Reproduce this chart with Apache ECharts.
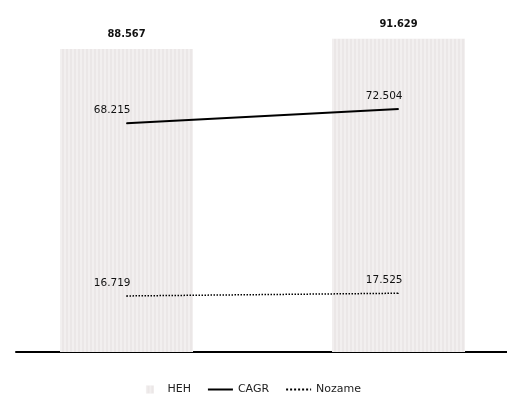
<!DOCTYPE html>
<html>
<head>
<meta charset="utf-8">
<script src="https://cdn.jsdelivr.net/npm/echarts@6/dist/echarts.min.js"></script>
<style>html,body{margin:0;padding:0;background:#fff}#c{width:507px;height:408px}</style>
</head>
<body>
<div id="c"></div>
<script>
const categories = ['A', 'B'];
const barName = 'HEH';
const barValues = [88.567, 91.629];
const line1Name = 'CAGR';
const line1Values = [68.215, 72.504];
const line2Name = 'Nozame';
const line2Values = [16.719, 17.525];

const chart = echarts.init(document.getElementById('c'));
const pts = vals => vals.map((v, i) => [i, v]);
const lineLabel = {
  show: true, position: 'top', align: 'right', offset: [4, -2],
  color: '#111', fontSize: 10.5, fontFamily: 'DejaVu Sans'
};
chart.setOption({
  animation: false,
  backgroundColor: '#fff',
  grid: { left: 16, right: 0, top: 10, bottom: 56 },
  legend: {
    bottom: 8, left: 'center', itemGap: 16, itemWidth: 25, itemHeight: 8,
    textStyle: { fontSize: 11, color: '#222', fontFamily: 'DejaVu Sans' },
    data: [
      { name: barName, icon: 'path://M0,0h10v10h-10z' },
      { name: line1Name, itemStyle: { opacity: 0 } },
      { name: line2Name, itemStyle: { opacity: 0 } }
    ]
  },
  xAxis: {
    type: 'value', min: -0.4063, max: 1.3988,
    axisLine: { show: true, onZero: false, lineStyle: { color: '#000', width: 2 } },
    axisTick: { show: false }, axisLabel: { show: false }, splitLine: { show: false }
  },
  yAxis: [
    { type: 'value', min: 0, max: 100, show: false, splitLine: { show: false } },
    { type: 'value', min: 0, max: 102, show: false, splitLine: { show: false } }
  ],
  series: [
    {
      name: barName, type: 'bar', data: pts(barValues), barWidth: 133,
      itemStyle: {
        color: '#ebe7e7',
        decal: { symbol: 'rect', symbolSize: 1, dashArrayX: [[2, 2]], dashArrayY: [4, 0], color: 'rgba(255,255,255,0.35)', rotation: 0 }
      },
      label: { show: true, position: 'top', distance: 9, fontWeight: 'bold', fontSize: 11, color: '#111', fontFamily: 'DejaVu Sans Condensed',
        formatter: p => p.value[1] }
    },
    {
      name: line1Name, type: 'line', yAxisIndex: 1, data: pts(line1Values),
      symbol: 'circle', symbolSize: 1, itemStyle: { color: '#000' },
      lineStyle: { color: '#000', width: 2 },
      label: Object.assign({}, lineLabel, { formatter: p => p.value[1] })
    },
    {
      name: line2Name, type: 'line', yAxisIndex: 1, data: pts(line2Values),
      symbol: 'circle', symbolSize: 1, itemStyle: { color: '#000' },
      lineStyle: { color: '#000', width: 1.5, type: 'dotted' },
      label: Object.assign({}, lineLabel, { formatter: p => p.value[1] })
    }
  ]
});
</script>
</body>
</html>
